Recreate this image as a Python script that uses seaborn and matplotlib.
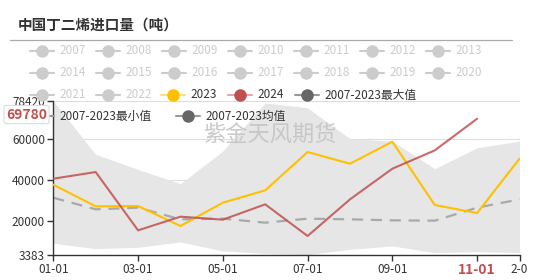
import matplotlib
matplotlib.use("Agg")
import matplotlib.pyplot as plt
import seaborn as sns
from matplotlib.lines import Line2D

# dati (tonnellate)
months = ['01-01', '02-01', '03-01', '04-01', '05-01', '06-01',
          '07-01', '08-01', '09-01', '10-01', '11-01', '12-01']
v2023 = [37560, 26990, 27150, 17400, 28780, 34800, 53500, 47800, 58540, 27640, 23740, 50240]
v2024 = [40490, 43740, 15280, 21950, 20490, 27970, 12520, 30400, 45370, 54310, 69780]
vmax = [78420, 52360, 45040, 38050, 54000, 77500, 75100, 60000, 58860, 45370, 55610, 58860]
vmin = [8940, 6340, 7000, 9590, 5200, 4000, 3383, 6000, 7640, 4390, 4880, 4390]
vmean = [31220, 25530, 26340, 20650, 20980, 19020, 20980, 20650, 20160, 20000, 26340, 30400]
yticks = [3383, 20000, 40000, 60000, 78420]
grey_years = [str(y) for y in range(2007, 2023)]

YELLOW = '#FFC000'
RED = '#C0504D'

sns.set_theme(style='white')
plt.rcParams['font.family'] = ['Noto Sans CJK SC', 'DejaVu Sans']

W, H = 542, 280
fig = plt.figure(figsize=(W / 100, H / 100), dpi=100)
ax = fig.add_axes([53.3 / W, 1 - 254.7 / H, (519.5 - 53.3) / W, (254.7 - 101) / H])

x = list(range(len(months)))

# banda min-max
ax.fill_between(x, vmin, vmax, color='#e6e6e6', lw=0, zorder=1)
sns.lineplot(x=x, y=vmean, ax=ax, color='#a9a9a9', lw=1.6, zorder=2)
ax.lines[-1].set_dashes((5, 3.5))
sns.lineplot(x=x, y=v2023, ax=ax, color=YELLOW, lw=1.5, zorder=3)
sns.lineplot(x=x[:len(v2024)], y=v2024, ax=ax, color=RED, lw=1.5, alpha=0.85, zorder=4)

ax.set_xlim(0, len(months) - 1)
ax.set_ylim(yticks[0], yticks[-1])
ax.set_yticks(yticks)
ax.set_yticklabels([str(v) for v in yticks], fontsize=8.5, color='#333333')
xt = [0, 2, 4, 6, 8, 10, 11]
labels = [months[i] for i in xt]
labels[-1] = labels[-1][1:4]  # l'etichetta finale e' tagliata nel grafico
ax.set_xticks(xt)
ax.set_xticklabels(labels, fontsize=8.5, color='#333333')
lab11 = ax.get_xticklabels()[5]
lab11.set_color(RED)
lab11.set_fontweight('bold')
lab11.set_fontsize(10)
ax.tick_params(axis='both', length=4, width=1, color='#333333', pad=2, direction='out')
ax.tick_params(axis='x', bottom=True)
ax.tick_params(axis='y', left=True)
ax.set_xlabel('')
ax.set_ylabel('')

for g in yticks[1:]:
    ax.axhline(g, color='#dddddd', lw=0.8, zorder=0.5)
for s in ['top', 'right']:
    ax.spines[s].set_visible(False)
for s in ['left', 'bottom']:
    ax.spines[s].set_color('#333333')
    ax.spines[s].set_linewidth(1)

# filigrana
ax.text(0.465, 0.775, '紫金天风期货', transform=ax.transAxes, fontsize=16,
        fontweight='light', color='#c4c4c4', alpha=0.9, ha='center', va='center', zorder=2.5)

# titolo e riga
fig.text(18 / W, 1 - 25 / H, '中国丁二烯进口量（吨）', fontsize=10.5, fontweight='bold',
         color='#333333', ha='left', va='center')
fig.add_artist(Line2D([10 / W, 512 / W], [1 - 40 / H, 1 - 40 / H], color='#aaaaaa', lw=0.9))


def legend_item(px, py, label, line_c, mark_c, text_c):
    fy = 1 - py / H
    ax.add_line(Line2D([(px - 12) / W, (px + 12) / W], [fy, fy], color=line_c, lw=1.5,
                       transform=fig.transFigure, clip_on=False, zorder=6))
    ax.add_line(Line2D([px / W], [fy], marker='o', ms=8, color=mark_c, lw=0,
                       transform=fig.transFigure, clip_on=False, zorder=6))
    ax.text((px + 17.5) / W, fy, label, fontsize=8.5, color=text_c, ha='left', va='center',
            transform=fig.transFigure, zorder=6)


rows_y = [50.7, 72.7, 95]
for i, name in enumerate(grey_years):
    r, c = divmod(i, 7)
    legend_item(41.7 + 66 * c, rows_y[r], name, '#cccccc', '#cccccc', '#cccccc')
legend_item(173.3, 95, '2023', '#ffe080', YELLOW, '#333333')
legend_item(240, 95, '2024', '#e0a8a6', RED, '#333333')
legend_item(306.7, 95, '2007-2023最大值', '#999999', '#666666', '#333333')
legend_item(41.7, 116, '2007-2023最小值', '#999999', '#666666', '#333333')
legend_item(187.7, 116, '2007-2023均值', '#999999', '#666666', '#333333')

# etichetta ultimo valore 2024, sopra la legenda
ax.annotate(f'{v2024[-1]}', xy=(0, v2024[-1]), xycoords=('axes fraction', 'data'),
            xytext=(-4.5, 3.0), textcoords='offset points', ha='right', va='center',
            fontsize=10, fontweight='bold', color=RED, zorder=10, annotation_clip=False,
            bbox=dict(boxstyle='round,pad=0.15', fc='white', ec='#dddddd', lw=0.8))

fig.savefig('out.png', dpi=100)
